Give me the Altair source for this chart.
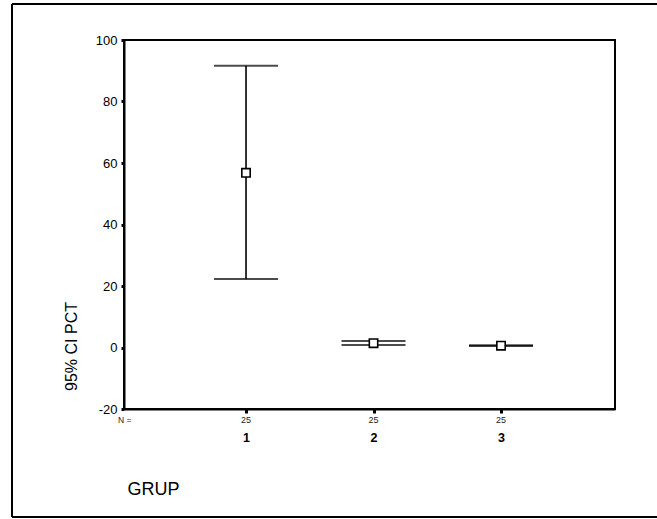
import altair as alt
import pandas as pd

groups = [1, 2, 3]
means = [56.8, 1.4, 0.6]
lower = [22.3, 0.8, 0.45]
upper = [91.6, 2.1, 0.75]
counts = [25, 25, 25]

df = pd.DataFrame({"GRUP": groups, "mean": means, "lo": lower, "hi": upper,
                   "n": [str(c) for c in counts]})

W, H = 491, 369
FONT = "Liberation Sans"

xs = alt.Scale(domain=[0.043, 3.894], nice=False, zero=False)
ys = alt.Scale(domain=[-20, 100], nice=False, zero=False)

base = alt.Chart(df)
one = base.transform_filter("datum.GRUP == 1")

xenc = alt.X("GRUP:Q", scale=xs,
             axis=alt.Axis(values=groups, format="d", grid=False,
                           labelFontWeight="bold", labelFontSize=12.5,
                           labelPadding=18, tickSize=4, tickWidth=3,
                           domainWidth=2, domainColor="black", tickColor="black",
                           labelColor="black", labelFont=FONT,
                           title="GRUP", titleFont=FONT, titleFontSize=18,
                           titleFontWeight="normal", titleX=3, titleY=85,
                           titleAlign="left", titleBaseline="alphabetic",
                           titleColor="black"))

yenc_axis = alt.Axis(values=[-20, 0, 20, 40, 60, 80, 100], grid=False,
                     labelExpr="'' + datum.value",
                     labelFontSize=13, labelFont=FONT, labelColor="black",
                     labelPadding=4, tickSize=3, tickWidth=3, tickColor="black",
                     domainWidth=2, domainColor="black",
                     title="95% CI PCT", titleFont=FONT, titleFontSize=16,
                     titleFontWeight="normal", titleColor="black",
                     titleAngle=-90, titleX=-47.5, titleY=306,
                     titleAlign="center", titleBaseline="alphabetic")

frame_top = one.mark_rule(color="black", strokeWidth=2).encode(
    x=alt.value(-112), x2=alt.value(540), y=alt.value(-36))
frame_bottom = one.mark_rule(color="black", strokeWidth=2).encode(
    x=alt.value(-112), x2=alt.value(540), y=alt.value(477))
frame_left = one.mark_rule(color="black", strokeWidth=2).encode(
    x=alt.value(-112), y=alt.value(-36), y2=alt.value(477))

bars = base.mark_rule(color="black", strokeWidth=1.6).encode(
    x=xenc,
    y=alt.Y("lo:Q", scale=ys, axis=yenc_axis),
    y2="hi:Q",
)

cap_hi = base.mark_tick(orient="horizontal", size=64, thickness=2, color="black").encode(
    x=alt.X("GRUP:Q", scale=xs), y=alt.Y("hi:Q", scale=ys))
cap_lo = base.mark_tick(orient="horizontal", size=64, thickness=2, color="black").encode(
    x=alt.X("GRUP:Q", scale=xs), y=alt.Y("lo:Q", scale=ys))

pts = base.mark_point(shape="square", size=70, filled=True, fill="white",
                      stroke="black", strokeWidth=1.6, opacity=1).encode(
    x=alt.X("GRUP:Q", scale=xs), y=alt.Y("mean:Q", scale=ys))

ntext = base.mark_text(font=FONT, fontSize=9, color="#222", baseline="alphabetic").encode(
    x=alt.X("GRUP:Q", scale=xs), y=alt.value(383), text="n:N")

nlabel = one.mark_text(font=FONT, fontSize=8.5, color="#222", baseline="alphabetic",
                       align="left", text="N =").encode(
    x=alt.value(-6), y=alt.value(383))

chart = alt.layer(frame_top, frame_bottom, frame_left, bars, cap_hi, cap_lo, pts,
                  ntext, nlabel).properties(
    width=W, height=H,
    autosize=alt.AutoSizeParams(type="none"),
    padding={"left": 124, "top": 40, "right": 657 - 124 - W, "bottom": 519 - 40 - H},
    background="white",
).configure_view(stroke="black", strokeWidth=2)

chart.save("out.html", embed_options={"renderer": "svg", "actions": False})
